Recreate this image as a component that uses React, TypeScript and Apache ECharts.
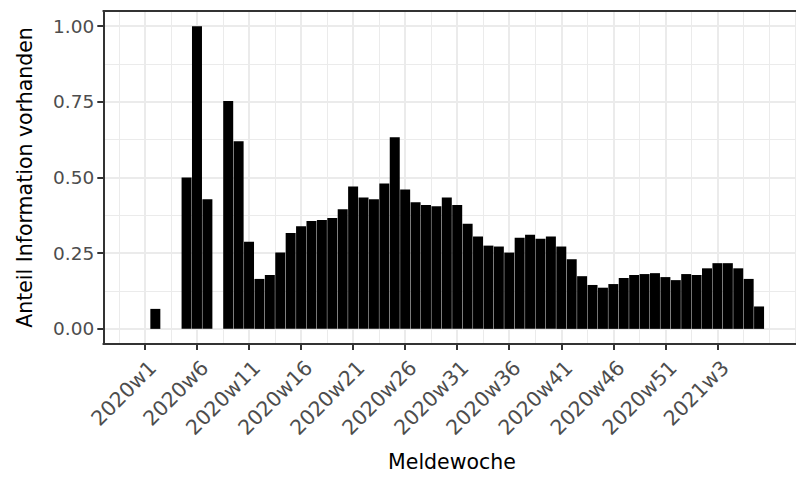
import React, { useEffect, useRef } from "react";
import * as echarts from "echarts";

// Week categories (x index 0 = 2020w1)
const weeks: string[] = [
  "2020w1", "2020w2", "2020w3", "2020w4", "2020w5", "2020w6", "2020w7", "2020w8", "2020w9", "2020w10",
  "2020w11", "2020w12", "2020w13", "2020w14", "2020w15", "2020w16", "2020w17", "2020w18", "2020w19", "2020w20",
  "2020w21", "2020w22", "2020w23", "2020w24", "2020w25", "2020w26", "2020w27", "2020w28", "2020w29", "2020w30",
  "2020w31", "2020w32", "2020w33", "2020w34", "2020w35", "2020w36", "2020w37", "2020w38", "2020w39", "2020w40",
  "2020w41", "2020w42", "2020w43", "2020w44", "2020w45", "2020w46", "2020w47", "2020w48", "2020w49", "2020w50",
  "2020w51", "2020w52", "2020w53", "2021w1", "2021w2", "2021w3", "2021w4", "2021w5", "2021w6", "2021w7",
];

// Anteil Information vorhanden per week (null = no bar)
const shares: (number | null)[] = [
  null, 0.066, null, null, 0.5, 1.0, 0.428, null, 0.753, 0.62,
  0.288, 0.165, 0.178, 0.252, 0.317, 0.339, 0.356, 0.36, 0.366, 0.395,
  0.47, 0.434, 0.428, 0.48, 0.633, 0.46, 0.418, 0.409, 0.405, 0.434,
  0.409, 0.347, 0.305, 0.275, 0.272, 0.252, 0.301, 0.311, 0.298, 0.305,
  0.272, 0.23, 0.174, 0.145, 0.136, 0.148, 0.168, 0.178, 0.181, 0.184,
  0.171, 0.161, 0.181, 0.178, 0.2, 0.217, 0.217, 0.2, 0.165, 0.074,
];

const xTickWeeks: string[] = [
  "2020w1", "2020w6", "2020w11", "2020w16", "2020w21", "2020w26",
  "2020w31", "2020w36", "2020w41", "2020w46", "2020w51", "2021w3",
];
const xMinorGrid: number[] = [
  -2.5, 2.5, 7.5, 12.5, 17.5, 22.5, 27.5, 32.5, 37.5, 42.5, 47.5, 52.5, 57.5, 60, 62.5,
];
const xLimits: [number, number] = [-4, 63];

const yTicks: number[] = [0, 0.25, 0.5, 0.75, 1];
const yMinorGrid: number[] = [0.125, 0.375, 0.625, 0.875];
const yLimits: [number, number] = [-0.05, 1.05];

const FONT = "'DejaVu Sans', 'Liberation Sans', sans-serif";
const CHART_W = 812;
const CHART_H = 477;

export default function App() {
  const ref = useRef<HTMLDivElement>(null);

  useEffect(() => {
    if (!ref.current) return;
    const chart = echarts.init(ref.current, null, { renderer: "svg" });
    const xMajor = xTickWeeks.map((w) => weeks.indexOf(w));
    const data = shares
      .map((v, i) => [i, v] as [number, number | null])
      .filter((d) => d[1] !== null);

    const hiddenX = (vals: number[], width: number, z: number) => ({
      type: "value",
      min: xLimits[0],
      max: xLimits[1],
      position: "bottom",
      z,
      axisLine: { show: false },
      axisTick: { show: false, customValues: vals },
      axisLabel: { show: false, customValues: vals },
      splitLine: { show: true, lineStyle: { color: "#EBEBEB", width } },
    });
    const hiddenY = (vals: number[], width: number, z: number) => ({
      type: "value",
      min: yLimits[0],
      max: yLimits[1],
      position: "left",
      z,
      axisLine: { show: false },
      axisTick: { show: false, customValues: vals },
      axisLabel: { show: false, customValues: vals },
      splitLine: { show: true, lineStyle: { color: "#EBEBEB", width } },
    });

    chart.setOption({
      animation: false,
      backgroundColor: "#ffffff",
      textStyle: { fontFamily: FONT },
      grid: {
        left: 103.3,
        top: 11,
        right: CHART_W - 800.7,
        bottom: CHART_H - 348.3,
        containLabel: false,
      },
      xAxis: [
        {
          type: "value",
          min: xLimits[0],
          max: xLimits[1],
          position: "bottom",
          z: 5,
          axisLine: { show: true, onZero: false, lineStyle: { color: "#333333", width: 2 } },
          axisTick: {
            show: true,
            length: 6,
            customValues: xMajor,
            lineStyle: { color: "#333333", width: 2 },
          },
          axisLabel: {
            show: true,
            customValues: xMajor,
            formatter: (v: number) => weeks[Math.round(v)] ?? "",
            rotate: 45,
            fontSize: 20.5,
            fontFamily: FONT,
            color: "#4D4D4D",
            margin: 28,
            padding: [0, -11, 0, 0],
          },
          splitLine: { show: false },
          name: "Meldewoche",
          nameLocation: "middle",
          nameGap: 107,
          nameTextStyle: { fontSize: 20.5, color: "#000000", fontFamily: FONT },
        },
        hiddenX(xMinorGrid, 1, 0),
        hiddenX(xMajor, 2, 1),
        {
          type: "value",
          min: xLimits[0],
          max: xLimits[1],
          position: "top",
          z: 5,
          axisLine: { show: true, onZero: false, lineStyle: { color: "#333333", width: 2 } },
          axisTick: { show: false },
          axisLabel: { show: false },
          splitLine: { show: false },
        },
      ],
      yAxis: [
        {
          type: "value",
          min: yLimits[0],
          max: yLimits[1],
          position: "left",
          z: 5,
          axisLine: { show: true, onZero: false, lineStyle: { color: "#333333", width: 2 } },
          axisTick: {
            show: true,
            length: 6,
            customValues: yTicks,
            lineStyle: { color: "#333333", width: 2 },
          },
          axisLabel: {
            show: true,
            customValues: yTicks,
            formatter: (v: number) => v.toFixed(2),
            fontSize: 18.5,
            fontFamily: FONT,
            color: "#4D4D4D",
            margin: 9,
          },
          splitLine: { show: false },
          name: "Anteil Information vorhanden",
          nameLocation: "middle",
          nameGap: 68,
          nameTextStyle: { fontSize: 20.5, color: "#000000", fontFamily: FONT },
        },
        hiddenY(yMinorGrid, 1, 0),
        hiddenY(yTicks, 2, 1),
      ],
      series: [
        {
          type: "bar",
          xAxisIndex: 0,
          yAxisIndex: 0,
          data,
          barWidth: "96%",
          itemStyle: { color: "#000000" },
          z: 2,
        },
      ],
    });
    return () => chart.dispose();
  }, []);

  return (
    <div
      style={{
        position: "fixed",
        left: 0,
        top: 0,
        width: 796,
        height: 477,
        overflow: "hidden",
        background: "#ffffff",
      }}
    >
      <div ref={ref} style={{ width: CHART_W, height: CHART_H }} />
    </div>
  );
}
